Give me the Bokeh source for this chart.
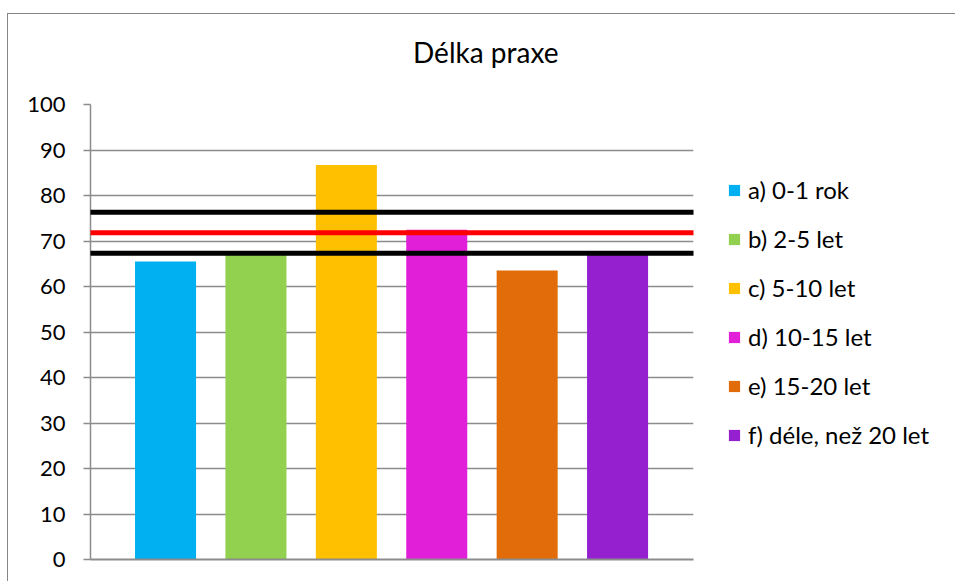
from bokeh.plotting import figure
from bokeh.layouts import column
from bokeh.models import Range1d, Span, Legend, LegendItem, FixedTicker, Div
from bokeh.embed import file_html
from bokeh.resources import INLINE

# Survey results by length of practice
chart_title = "Délka praxe"
categories = ["a) 0-1 rok", "b) 2-5 let", "c) 5-10 let", "d) 10-15 let",
              "e) 15-20 let", "f) déle, než 20 let"]
values = [65.5, 67.0, 86.7, 72.5, 63.5, 67.0]
colors = ["#00B0F0", "#92D050", "#FFC000", "#E21FD8", "#E36C0A", "#9520D0"]

# Reference levels: mean and its band
mean_level = 71.8
upper_level = 76.3
lower_level = 67.3

y_ticks = list(range(0, 101, 10))

FONT = "Lato"
GRID = "#8c8c8c"

p = figure(
    frame_width=603, frame_height=455,
    min_border_left=82, min_border_top=14, min_border_right=256, min_border_bottom=22,
    x_range=Range1d(0.17, 6.84), y_range=Range1d(0, 100),
    output_backend="svg", toolbar_location=None, margin=0,
)
p.outline_line_color = None
p.background_fill_color = "white"
p.border_fill_color = "white"

items = []
for i, (cat, val, col) in enumerate(zip(categories, values, colors)):
    r = p.vbar(x=[i + 1], top=[val], bottom=0, width=0.675,
               fill_color=col, line_color=None)
    items.append(LegendItem(label=cat, renderers=[r]))

for lvl, col in [(upper_level, "black"), (mean_level, "red"), (lower_level, "black")]:
    p.add_layout(Span(location=lvl, dimension="width", line_color=col,
                      line_width=5, line_cap="round"))

# y axis
p.yaxis.ticker = FixedTicker(ticks=y_ticks)
p.yaxis.axis_line_color = GRID
p.yaxis.axis_line_width = 1.5
p.yaxis.major_tick_line_color = GRID
p.yaxis.major_tick_line_width = 1.5
p.yaxis.major_tick_out = 7
p.yaxis.major_tick_in = 0
p.yaxis.minor_tick_line_color = None
p.yaxis.major_label_text_font = FONT
p.yaxis.major_label_text_font_size = "22px"
p.yaxis.major_label_text_color = "black"
p.yaxis.major_label_standoff = 18

# x axis: bare line at zero
p.xaxis.ticker = FixedTicker(ticks=[])
p.xaxis.axis_line_color = GRID
p.xaxis.axis_line_width = 2
p.xaxis.major_tick_line_color = None
p.xaxis.minor_tick_line_color = None
p.xgrid.visible = False

p.ygrid.ticker = FixedTicker(ticks=y_ticks)
p.ygrid.grid_line_color = GRID
p.ygrid.grid_line_width = 1.5

legend = Legend(items=items, location=(34, 110), orientation="vertical",
                label_text_font=FONT, label_text_font_size="24px",
                label_text_color="black",
                glyph_width=14, glyph_height=14, label_standoff=7,
                spacing=20, padding=0, margin=0,
                border_line_color=None, background_fill_alpha=0)
p.add_layout(legend, "right")

# chart title above the plot
title_div = Div(
    text=f'<div style="font-family: {FONT}; font-size: 28px; color: black; '
         f'line-height: 1.2; padding-top: 22px; padding-left: 405px; '
         f'white-space: nowrap;">{chart_title}</div>',
    width=947, height=76, margin=0,
)

layout = column(title_div, p, margin=(13, 0, 0, 7), spacing=0,
                styles={"border-top": "1.5px solid #868686",
                        "border-left": "1.5px solid #868686",
                        "background": "white"})

open("out.html", "w").write(file_html(layout, INLINE))
